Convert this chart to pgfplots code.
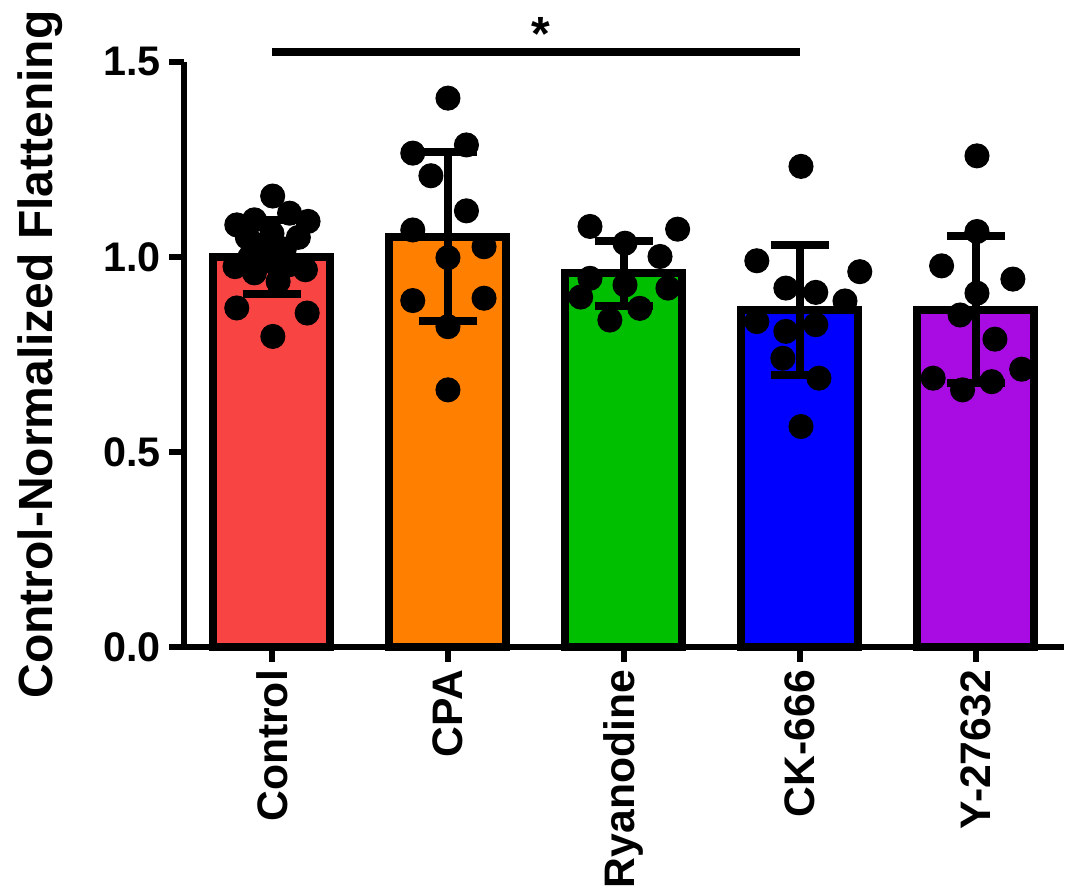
\documentclass[border=0pt]{standalone}
\usepackage{fontspec}
\setmainfont{Liberation Sans}
\usepackage{pgfplots}
\pgfplotsset{compat=1.18}
\definecolor{cctrl}{HTML}{F94444}
\definecolor{ccpa}{HTML}{FF8000}
\definecolor{cry}{HTML}{00BF00}
\definecolor{cck}{HTML}{0000FF}
\definecolor{cy}{HTML}{A80CE3}
\begin{document}
\begin{tikzpicture}
\begin{axis}[name=ax, scale only axis, width=330pt, height=219.4pt,
  xmin=-0.5, xmax=4.5, ymin=0, ymax=1.5,
  axis lines*=left, axis line style={line width=2.25pt, -},
  clip=false,
  xtick={0,1,2,3,4}, xticklabels={Control,CPA,Ryanodine,CK-666,Y-27632},
  ytick={0,0.5,1,1.5}, yticklabels={0.0,0.5,1.0,1.5},
  tick align=outside, major tick length=5.5pt,
  tick style={line width=2.25pt, black},
  xticklabel style={rotate=90, anchor=east, font=\fontsize{16}{16}\selectfont\bfseries, inner sep=0pt, xshift=-3pt},
  yticklabel style={font=\fontsize{15.5}{15.5}\selectfont\bfseries, inner sep=0pt, xshift=-3pt},
  ylabel={Control-Normalized Flattening},
  ylabel style={font=\fontsize{18}{18}\selectfont\bfseries, at={(axis description cs:-0.1375,0.5)}, anchor=south, inner sep=0pt},
  mybar/.style={ybar, bar width=0.665, bar shift=0pt, draw=black, line width=3pt,
    error bars/y dir=both, error bars/y explicit,
    error bars/error mark=|,
    error bars/error bar style={line width=3pt, black},
    error bars/error mark options={line width=3pt, mark size=10.9pt, black}},
  dots/.style={only marks, mark=*, mark size=4.5pt, black, mark options={fill=black, draw=black}},
]
\addplot[mybar, fill=cctrl] coordinates {(0,1.0) +- (0,0.095)};
\addplot[mybar, fill=ccpa] coordinates {(1,1.052) +- (0,0.217)};
\addplot[mybar, fill=cry] coordinates {(2,0.958) +- (0,0.083)};
\addplot[mybar, fill=cck] coordinates {(3,0.864) +- (0,0.167)};
\addplot[mybar, fill=cy] coordinates {(4,0.865) +- (0,0.189)};
% dots
\addplot[dots] coordinates {
(0.004,1.156) (-0.20,1.082) (-0.10,1.095) (0.10,1.112) (0.205,1.091) (-0.14,1.05) (0.0,1.06) (0.15,1.05) (-0.06,1.03) (0.07,1.02) (-0.21,0.975) (-0.10,0.959) (0.19,0.967) (0.035,0.937) (-0.02,0.99) (0.10,0.98) (-0.125,1.0) (-0.20,0.869) (0.20,0.856) (0.005,0.796)
};
\addplot[dots] coordinates {
(1.0,1.407) (0.80,1.266) (1.105,1.287) (0.903,1.208) (1.105,1.118) (0.80,1.069) (1.205,1.026) (1.0,0.998) (0.80,0.888) (1.205,0.894) (1.0,0.821) (1.0,0.659)
};
\addplot[dots] coordinates {
(1.807,1.078) (2.305,1.071) (2.006,1.035) (2.205,1.001) (1.807,0.945) (2.006,0.928) (2.25,0.920) (1.754,0.897) (2.09,0.868) (1.92,0.838)
};
\addplot[dots] coordinates {
(3.006,1.232) (2.755,0.990) (3.34,0.962) (2.92,0.920) (3.09,0.909) (3.256,0.887) (2.755,0.834) (3.09,0.826) (2.92,0.809) (2.903,0.740) (3.108,0.689) (3.006,0.565)
};
\addplot[dots] coordinates {
(4.006,1.259) (4.006,1.065) (3.805,0.977) (4.21,0.943) (4.006,0.907) (3.91,0.851) (4.108,0.789) (3.757,0.689) (4.26,0.712) (3.924,0.659) (4.09,0.680)
};
% significance bar
\addplot[black, line width=3pt, line cap=butt, no marks] coordinates {(0,1.526) (3,1.526)};
\node[font=\fontsize{18}{18}\selectfont\bfseries, anchor=base, inner sep=0pt] at (axis cs:1.53,1.53) {*};
\end{axis}
\pgfresetboundingbox
\path ([shift={(-69pt,-92.25pt)}]ax.south west) rectangle ([shift={(330.4pt,242.6pt)}]ax.south west);
\end{tikzpicture}
\end{document}
